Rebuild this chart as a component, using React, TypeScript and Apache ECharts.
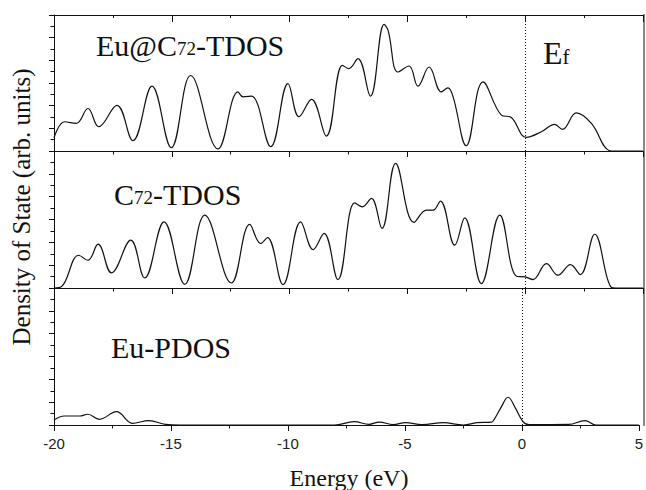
import React, { useEffect, useRef } from "react";
import * as echarts from "echarts";

// Energy range (eV) and x tick step
const energyMin = -20;
const energyMax = 5;
const energyStep = 5;
const dosMax = 12;

// Eu@C72 total DOS  [energy eV, DOS arb.]
const eucTdos: [number, number][] = [
  [-20, 1.17], [-19.55, 2.58], [-19.05, 2.44], [-18.56, 3.75], [-18.1, 2.14],
  [-17.33, 4.02], [-16.65, 0.91], [-15.84, 5.72], [-15.02, 0.29], [-14.2, 6.66],
  [-13.04, 0.18], [-12.19, 5.22], [-11.98, 4.78], [-11.62, 4.84], [-10.8, 0.38],
  [-10.07, 5.95], [-9.6, 3.02], [-9.07, 4.55], [-8.44, 1.32], [-7.76, 7.56],
  [-7.49, 7.27], [-7.1, 8.15], [-6.57, 4.84], [-5.99, 11.17], [-5.82, 10.64],
  [-5.4, 6.97], [-4.93, 7.5], [-4.55, 5.72], [-4.08, 7.41], [-3.56, 5.22],
  [-3.28, 5.57], [-3.06, 4.78], [-2.5, 0.47], [-1.79, 6.1], [-1.01, 3.17],
  [-0.59, 2.96], [0.05, 1.2], [0.69, 1.7], [1.25, 2.35], [1.58, 1.91],
  [2.17, 3.37], [2.81, 2.44], [3.56, 0.05], [3.8, 0], [5, 0],
];

// C72 total DOS
const c72Tdos: [number, number][] = [
  [-20, 0], [-19.69, 0.1], [-18.95, 2.87], [-18.56, 2.43], [-18.13, 3.84],
  [-17.56, 1.32], [-16.74, 4.19], [-16.15, 0.88], [-15.33, 5.79], [-14.45, 0.32],
  [-13.6, 6.38], [-12.47, 0.44], [-11.69, 5.57], [-11.23, 3.9], [-10.94, 4.42],
  [-10.28, 0.3], [-9.53, 5.79], [-9.0, 3.37], [-8.54, 4.78], [-7.95, 0.74],
  [-7.24, 7.46], [-6.91, 7.11], [-6.53, 7.85], [-6.08, 5.22], [-5.5, 10.92],
  [-4.72, 5.75], [-4.19, 6.82], [-3.91, 6.82], [-3.6, 7.61], [-2.99, 3.75],
  [-2.57, 6.15], [-1.86, 0.39], [-1.08, 6.38], [-0.37, 1.03], [0, 0.97],
  [0.33, 0.74], [0.9, 2.14], [1.39, 1.12], [1.92, 2.05], [2.34, 1.18],
  [2.95, 4.71], [3.66, 0.05], [3.85, 0], [5, 0],
];

// Eu partial DOS
const euPdos: [number, number][] = [
  [-20, 0.44], [-19.55, 0.79], [-18.9, 0.79], [-18.56, 0.94], [-18.06, 0.5],
  [-17.33, 1.17], [-16.65, 0.15], [-15.94, 0.38], [-15.23, 0.06], [-14.6, 0],
  [-12, 0], [-8.01, 0], [-7.17, 0.29], [-6.53, 0.06], [-6.1, 0.26],
  [-5.5, 0.04], [-4.98, 0.2], [-4.27, 0.03], [-3.35, 0.2], [-2.5, 0],
  [-1.93, 0.2], [-1.29, 0.26], [-1.21, 0.4], [-0.9, 1.5], [-0.59, 2.43],
  [-0.28, 1.5], [0.03, 0.35], [0.3, 0.03], [2.0, 0.05], [2.7, 0.38],
  [3.16, 0], [5, 0],
];

const panelSeries = [eucTdos, c72Tdos, euPdos];
const panelLabels = ["Eu@C{s|72}-TDOS", "C{s|72}-TDOS", "Eu-PDOS"];
const fermiLabel = "E{s|f}";
const fermiEnergy = 0;
const xAxisName = "Energy (eV)";
const yAxisName = "Density of State (arb. units)";

const INK = "#111";
const SERIF = "'Liberation Serif', 'Times New Roman', serif";
const SANS = "'Liberation Sans', Arial, sans-serif";

const gridTops = [15, 151, 288];
const gridHeights = [136, 137, 137];
const labelPos = [
  [96, 45],
  [114, 194],
  [111, 347],
];

export default function App() {
  const ref = useRef<HTMLDivElement>(null);
  useEffect(() => {
    if (!ref.current) return;
    const chart = echarts.init(ref.current, undefined, { renderer: "svg" });

    const grids = gridTops.map((t, i) => ({
      left: 54,
      right: 3,
      top: t,
      height: gridHeights[i],
      containLabel: false,
    }));

    const xAxes: any[] = gridTops.map((_, i) => ({
      type: "value",
      gridIndex: i,
      min: energyMin,
      max: energyMax,
      interval: energyStep,
      position: "bottom",
      axisLine: { show: true, onZero: false, lineStyle: { color: INK, width: 1 } },
      axisTick: { show: true, inside: false, length: 6, lineStyle: { color: INK } },
      minorTick: { show: true, splitNumber: 2, length: 3.5, lineStyle: { color: INK } },
      splitLine: { show: false },
      axisLabel: {
        show: i === 2,
        color: "#222",
        fontFamily: SANS,
        fontSize: 15,
        margin: 11,
      },
    }));
    xAxes.push({
      type: "value",
      gridIndex: 0,
      min: energyMin,
      max: energyMax,
      interval: energyStep,
      position: "top",
      axisLine: { show: true, onZero: false, lineStyle: { color: INK, width: 1 } },
      axisTick: { show: true, inside: true, length: 7, lineStyle: { color: INK } },
      minorTick: { show: true, splitNumber: 2, length: 3, lineStyle: { color: INK } },
      splitLine: { show: false },
      axisLabel: { show: false },
    });

    const yAxes = gridTops.map((_, i) => ({
      type: "value",
      gridIndex: i,
      min: 0,
      max: dosMax,
      interval: 2,
      position: "left",
      axisLine: { show: true, onZero: false, lineStyle: { color: INK, width: 1 } },
      axisTick: { show: true, inside: false, length: 5, lineStyle: { color: INK } },
      minorTick: { show: true, splitNumber: 2, length: 3.5, lineStyle: { color: INK } },
      splitLine: { show: false },
      axisLabel: { show: false },
    }));

    const series = panelSeries.map((data, i) => ({
      type: "line",
      xAxisIndex: i,
      yAxisIndex: i,
      data,
      smooth: 0.4,
      showSymbol: false,
      lineStyle: { color: INK, width: 1.2 },
      silent: true,
      markLine: {
        silent: true,
        symbol: ["none", "none"],
        label: { show: false },
        lineStyle: { color: INK, type: [1, 2], width: 1 },
        data: [{ xAxis: fermiEnergy }],
      },
    }));

    const graphics: any[] = panelLabels.map((t, i) => ({
      type: "text",
      x: labelPos[i][0],
      y: labelPos[i][1],
      silent: true,
      style: {
        text: t,
        fontFamily: SERIF,
        fontSize: 30,
        fill: INK,
        verticalAlign: "middle",
        align: "left",
        rich: {
          s: {
            fontFamily: SERIF,
            fontSize: 19,
            fill: INK,
            verticalAlign: "bottom",
            padding: [0, 0, 2, 0],
          },
        },
      },
    }));
    graphics.push({
      type: "text",
      x: 543,
      y: 53,
      silent: true,
      style: {
        text: fermiLabel,
        fontFamily: SERIF,
        fontSize: 32,
        fill: INK,
        verticalAlign: "middle",
        align: "left",
        rich: {
          s: {
            fontFamily: SERIF,
            fontSize: 21,
            fill: INK,
            verticalAlign: "bottom",
            padding: [0, 0, 2, 0],
          },
        },
      },
    });
    graphics.push({
      type: "text",
      x: 349,
      y: 478,
      silent: true,
      style: {
        text: xAxisName,
        fontFamily: SERIF,
        fontSize: 24,
        fill: INK,
        align: "center",
        verticalAlign: "middle",
      },
    });
    graphics.push({
      type: "text",
      x: 21,
      y: 207,
      rotation: Math.PI / 2,
      silent: true,
      style: {
        text: yAxisName,
        fontFamily: SERIF,
        fontSize: 25,
        fill: INK,
        align: "center",
        verticalAlign: "middle",
      },
    });
    graphics.push({
      type: "line",
      silent: true,
      shape: { x1: 644, y1: 14, x2: 644, y2: 426 },
      style: { stroke: "#888", lineWidth: 2 },
    });

    chart.setOption({
      animation: false,
      backgroundColor: "#fff",
      grid: grids,
      xAxis: xAxes,
      yAxis: yAxes,
      series,
      graphic: graphics,
    });
    return () => chart.dispose();
  }, []);

  return (
    <div
      ref={ref}
      style={{ position: "fixed", left: 0, top: 0, width: 646, height: 490 }}
    />
  );
}
